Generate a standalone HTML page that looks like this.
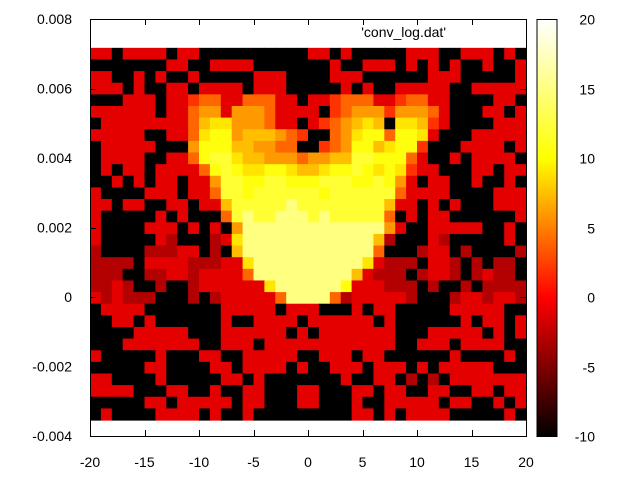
<!DOCTYPE html>
<html><head><meta charset="utf-8"><style>
html,body{margin:0;padding:0;background:#fff;}
svg{display:block;font-family:"Liberation Sans",sans-serif;}
</style></head><body>
<svg id="chart" width="640" height="480" viewBox="0 0 640 480" xmlns="http://www.w3.org/2000/svg">
<defs><linearGradient id="hot" x1="0" y1="1" x2="0" y2="0">
<stop offset="0" stop-color="#000"/><stop offset="0.3333" stop-color="#f00"/><stop offset="0.6667" stop-color="#ff0"/><stop offset="1" stop-color="#fff"/>
</linearGradient></defs>
<g id="cells"></g>
<rect x="90.5" y="19.5" width="436" height="417" fill="none" stroke="#000"/>
<g id="axes"></g>
<text x="446" y="37" text-anchor="end" font-size="14">'conv_log.dat'</text>
<rect x="537" y="19.5" width="20" height="417" fill="url(#hot)" stroke="#000"/>
</svg>
<script>
const xRange = [-20, 20];
const yRange = [-0.004, 0.008];
const cbRange = [-10, 20];
const gridX = [-20, 20];
const gridY = [-0.00354, 0.00717];
const xTicks = [-20, -15, -10, -5, 0, 5, 10, 15, 20];
const yTicks = [-0.004, -0.002, 0, 0.002, 0.004, 0.006, 0.008];
const yTickLabels = ["-0.004", "-0.002", "0", "0.002", "0.004", "0.006", "0.008"];
const cbTicks = [-10, -5, 0, 5, 10, 15, 20];
const levelValues = {"0": -10, "1": -3, "2": -1, "3": 2, "4": 4, "5": 6, "6": 7.5, "7": 9, "8": 10.5, "9": 12, "w": 15};
const rows = [
["2202222022","0000000000","2202000002","2200222020"],
["0000000220","0222200000","0020022202","0202002002"],
["2200202002","0000022200","0022200000","0222000002"],
["2220200220","2222022200","0002020022","2220022222"],
["000222022","344","22","444","22022","3444","22","344","2","20000220"],
["222222022","455","2","5554","22","22","0","34555","3","5554","2","000","22","0","2"],
["022222222","4","677","5554","22","02","3","45","676","0","776","3","2","0000","22","2"],
["22222","00","22","4","788","5","66654","3","00","45","788","4","887","2","000","22222"],
["02222","2","000","5","888","665544","00","34","5","88","6","788","3","000","2","222","0","2"],
["0","2222","00","22","4","899","76655","54","5566","998","88","4","2","00","2","0","222","2","0"],
["0202202222","48987788766788987873","2200022022"],
["0020202202","2","599889988899988985","20220020020"],
["200002220224","9989999998999999","4","22220000222"],
["220220022022","6","99999w99999999","6","220202000222"],
["2000002020004","9w99www9w99999","4","020220000002"],
["2000022202020","5","wwwwwwwwwwwww","5","200222220020"],
["2000002100012","7","wwwwwwwwwwww","6","1000210000020"],
["1000011122010","6","wwwwwwwwwwww","4","0001220100001"],
["1111022221112","2","7","wwwwwwwwww","7","2","1110221010110"],
["1110011221222","2","4","wwwwwwwww","6","2","11101221012110"],
["1121001001222","222","7","wwwwww","8","22","21110100101111"],
["21211100010122222","4","wwww","4","1","2222210001221221"],
["0","2222","0000000","22222","0","2","22","000","2","0","22","00000","22222","00"],
["00220","2","000000","2","00","2222","0","222222","0","2","000000","2","0","22","0","2"],
["0000","22222","000","222222","0","2","0","2222222","000","22222","0","2","0","2"],
["000","2222222","00","222","0","22222222","2","222","00","222","0","2222","00"],
["2","00000","2","000","22","00","22222","00","222","0","22","000000","2","0000","2","0"],
["00000","22","0000","22","0","2222","0","2","00","22","2","0","222","0","2","0","22222","000"],
["22","0000","2","00000","22","0","2","0000000","2","00","22","0","1","01","0","222222","2"],
["22","22","000","22","00","2","00","22","000","22","000","22","0","22","00","22","00","22","0","22"],
["00000","22","0","22222","0","22","000","22","000","2","00","22222","0","22","00","2","0","2"],
["0","2","0000","2222","0","2","00","2","000000000","22","0","2","0","2222","00000","2","0"]
].map(r => r.join(""));

const PL = 90, PR = 526, PT = 19, PB = 436;
function xs(v){ return PL + (v - xRange[0]) / (xRange[1] - xRange[0]) * (PR - PL); }
function ys(v){ return PB - (v - yRange[0]) / (yRange[1] - yRange[0]) * (PB - PT); }
function hot(v){
  let g = (v - cbRange[0]) / (cbRange[1] - cbRange[0]);
  g = Math.max(0, Math.min(1, g));
  const r = Math.min(1, 3*g), gg = Math.max(0, Math.min(1, 3*g - 1)), b = Math.max(0, Math.min(1, 3*g - 2));
  return `rgb(${Math.round(r*255)},${Math.round(gg*255)},${Math.round(b*255)})`;
}
const NS = "http://www.w3.org/2000/svg";
const cells = document.getElementById("cells");
const nR = rows.length;
rows.forEach((row, ri) => {
  const nC = 40;
  const dx = (gridX[1] - gridX[0]) / nC;
  const dy = (gridY[1] - gridY[0]) / nR;
  const yTop = gridY[1] - ri * dy;
  for (let ci = 0; ci < Math.min(nC, row.length); ci++) {
    const v = levelValues[row[ci]];
    if (v === undefined) continue;
    const x0 = gridX[0] + ci * dx;
    const el = document.createElementNS(NS, "rect");
    
    
    el.setAttribute("x", xs(x0).toFixed(2));
    el.setAttribute("y", ys(yTop).toFixed(2));
    el.setAttribute("width", (xs(x0 + dx) - xs(x0) + 0.6).toFixed(2));
    el.setAttribute("height", (ys(yTop - dy) - ys(yTop) + 0.6).toFixed(2));
    el.setAttribute("fill", hot(v));
    cells.appendChild(el);
  }
});
const axes = document.getElementById("axes");
function line(x1,y1,x2,y2,name){
  const l = document.createElementNS(NS, "line");
  
  
  l.setAttribute("x1",x1);l.setAttribute("y1",y1);l.setAttribute("x2",x2);l.setAttribute("y2",y2);
  l.setAttribute("stroke","#000");
  axes.appendChild(l);
}
function text(x,y,s,anchor,name){
  const t = document.createElementNS(NS, "text");
  
  
  t.setAttribute("x",x);t.setAttribute("y",y);t.setAttribute("text-anchor",anchor);
  t.setAttribute("font-size","14");
  t.textContent = s;
  axes.appendChild(t);
}
xTicks.forEach(v => {
  const x = Math.round(xs(v)) + 0.5;
  line(x, PB, x, PB-6, 'x-tick');
  line(x, PT, x, PT+6, 'x-tick-mirror');
  text(xs(v), 467, String(v), "middle", 'x-tick-label');
});
yTicks.forEach((v,i) => {
  const y = Math.round(ys(v)) + 0.5;
  line(PL, y, PL+6, y, 'y-tick');
  line(PR, y, PR-6, y, 'y-tick-mirror');
  text(72, ys(v)+5, yTickLabels[i], "end", 'y-tick-label');
});
cbTicks.forEach(v => {
  const y = Math.round(PB - (v - cbRange[0])/(cbRange[1]-cbRange[0])*(PB-PT)) + 0.5;
  line(537, y, 543, y, 'colorbar-tick');
  line(557, y, 551, y, 'colorbar-tick-mirror');
  text(595, y+5, String(v), "end", 'colorbar-tick-label');
});
</script>
</body></html>
